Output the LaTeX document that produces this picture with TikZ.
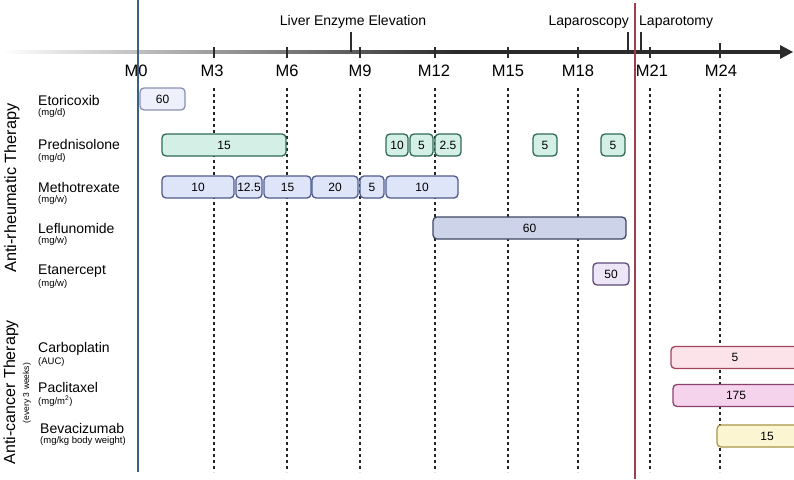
\documentclass[tikz,border=0pt]{standalone}
\usepackage{fontspec}
\setmainfont{Liberation Sans}
\definecolor{axisdark}{HTML}{2B2B2B}
\definecolor{mzero}{HTML}{3A5F85}
\definecolor{opline}{HTML}{9E3F4E}
\definecolor{etoF}{HTML}{EEF1FB}\definecolor{etoD}{HTML}{8A91B0}
\definecolor{preF}{HTML}{D4F0E6}\definecolor{preD}{HTML}{2F6A55}
\definecolor{metF}{HTML}{DFE5F8}\definecolor{metD}{HTML}{4F5A8F}
\definecolor{lefF}{HTML}{CDD3E8}\definecolor{lefD}{HTML}{3E4764}
\definecolor{etaF}{HTML}{EDE6F7}\definecolor{etaD}{HTML}{5E4B7C}
\definecolor{carF}{HTML}{FCE3EA}\definecolor{carD}{HTML}{A2455C}
\definecolor{pacF}{HTML}{F6D3EC}\definecolor{pacD}{HTML}{8B4070}
\definecolor{bevF}{HTML}{FBF5D2}\definecolor{bevD}{HTML}{A89644}
\begin{document}
\begin{tikzpicture}[x=1pt,y=-1pt,
  box/.style={draw, rounded corners=4pt, line width=1.3pt, inner sep=0pt,
    minimum height=22pt, font=\fontsize{12}{14}\selectfont},
  eto/.style={box, fill=etoF, draw=etoD},
  pre/.style={box, fill=preF, draw=preD},
  met/.style={box, fill=metF, draw=metD},
  lef/.style={box, fill=lefF, draw=lefD},
  eta/.style={box, fill=etaF, draw=etaD},
  car/.style={box, fill=carF, draw=carD},
  pac/.style={box, fill=pacF, draw=pacD},
  bev/.style={box, fill=bevF, draw=bevD},
  drug/.style={anchor=west, inner sep=0pt, font=\fontsize{14}{16}\selectfont},
  unit/.style={anchor=west, inner sep=0pt, font=\fontsize{9.5}{11}\selectfont},
  month/.style={inner sep=0pt, font=\fontsize{16.5}{18}\selectfont},
  event/.style={inner sep=0pt, font=\fontsize{14}{16}\selectfont},
  grid/.style={line width=1.5pt, dash pattern=on 3pt off 3pt, black!85},
  tick/.style={line width=1.5pt, axisdark},
  group/.style={rotate=90, inner sep=0pt, font=\fontsize{16.3}{18}\selectfont},
]
\useasboundingbox (0,0) rectangle (794,479);
\clip (0,0) rectangle (794,479);
\fill[white] (0,0) rectangle (794,479);

% dotted month lines
\foreach \x in {214,287,360,435,508,578,650,720}
  \draw[grid] (\x,88) -- (\x,472);

% axis with gradient
\foreach \i in {0,...,91} {
  \pgfmathsetmacro{\p}{\i/91*100}
  \fill[axisdark!\p!white] ({\i*5},50) rectangle ({\i*5+5.6},54);
}
\fill[axisdark] (459,50) rectangle (782,54);
\fill[axisdark] (780,45) -- (793,52) -- (780,59) -- cycle;
\coordinate (axisend) at (793,52);

% ticks
\foreach \x in {214,287,360,435,508,578,650}
  \draw[tick] (\x,47) -- (\x,58);
\draw[tick] (720,43) -- (720,58);
\draw[tick] (138,47) -- (138,58);

% month labels
\node[month] (m0) at (136,71) {M0};
\node[month] (m3) at (212,71) {M3};
\node[month] (m6) at (287,71) {M6};
\node[month] (m9) at (360,71) {M9};
\node[month] (m12) at (434,71) {M12};
\node[month] (m15) at (508,71) {M15};
\node[month] (m18) at (578,71) {M18};
\node[month] (m21) at (652,71) {M21};
\node[month] (m24) at (721,71) {M24};

% events
\draw[tick] (351,32) -- (351,52);
\node[event] (liver) at (353,22) {Liver Enzyme Elevation};
\draw[tick] (628,32) -- (628,52);
\draw[tick] (641,32) -- (641,52);
\node[event, anchor=east] (lapsc) at (629,22) {Laparoscopy};
\node[event, anchor=west] (lapto) at (639,22) {Laparotomy};

% M0 line and operation line
\draw[mzero, line width=2.5pt] (138,0) -- (138,472);
\draw[opline, line width=2.5pt] (635,3) -- (635,479);

% group labels
\node[group] (ar) at (12,188) {Anti-rheumatic Therapy};
\node[group, font=\fontsize{16}{18}\selectfont] (ac) at (11,392) {Anti-cancer Therapy};
\node[group, font=\fontsize{8.5}{10}\selectfont] (ev3) at (27,393) {(every 3 weeks)};

% drug labels
\node[drug] (n1) at (38,100) {Etoricoxib};      \node[unit] (u1) at (38,113) {(mg/d)};
\node[drug] (n2) at (38,144) {Prednisolone};    \node[unit] (u2) at (38,158) {(mg/d)};
\node[drug] (n3) at (38,187) {Methotrexate};    \node[unit] (u3) at (38,200) {(mg/w)};
\node[drug] (n4) at (38,228) {Leflunomide};     \node[unit] (u4) at (38,241) {(mg/w)};
\node[drug] (n5) at (38,271) {Etanercept};      \node[unit] (u5) at (38,284) {(mg/w)};
\node[drug] (n6) at (38,349) {Carboplatin};     \node[unit] (u6) at (38,362) {(AUC)};
\node[drug] (n7) at (38,387) {Paclitaxel};      \node[unit] (u7) at (38,401) {(mg/m\textsuperscript{2})};
\node[drug] (n8) at (40,428) {Bevacizumab};     \node[unit] (u8) at (40,441) {(mg/kg body weight)};

% Etoricoxib
\node[eto, minimum width=45pt] (e1) at (162.5,99) {60};
% Prednisolone
\node[pre, minimum width=124pt] (p1) at (224,145) {15};
\node[pre, minimum width=22pt] (p2) at (397,145) {10};
\node[pre, minimum width=23pt] (p3) at (421.5,145) {5};
\node[pre, minimum width=26pt] (p4) at (448,145) {2.5};
\node[pre, minimum width=24pt] (p5) at (545,145) {5};
\node[pre, minimum width=24pt] (p6) at (613,145) {5};
% Methotrexate
\node[met, minimum width=72pt] (t1) at (198,187) {10};
\node[met, minimum width=26pt] (t2) at (249,187) {12.5};
\node[met, minimum width=47pt] (t3) at (287.5,187) {15};
\node[met, minimum width=46pt] (t4) at (335,187) {20};
\node[met, minimum width=24pt] (t5) at (372,187) {5};
\node[met, minimum width=72pt] (t6) at (422,187) {10};
% Leflunomide
\node[lef, minimum width=193pt] (l1) at (529.5,228) {60};
% Etanercept
\node[eta, minimum width=36pt] (a1) at (611,274) {50};
% Anti-cancer
\node[car, minimum width=128pt] (c1) at (735,357.5) {5};
\node[pac, minimum width=126pt] (x1) at (736,395.5) {175};
\node[bev, minimum width=100pt] (b1) at (767,436) {15};
\end{tikzpicture}
\end{document}
